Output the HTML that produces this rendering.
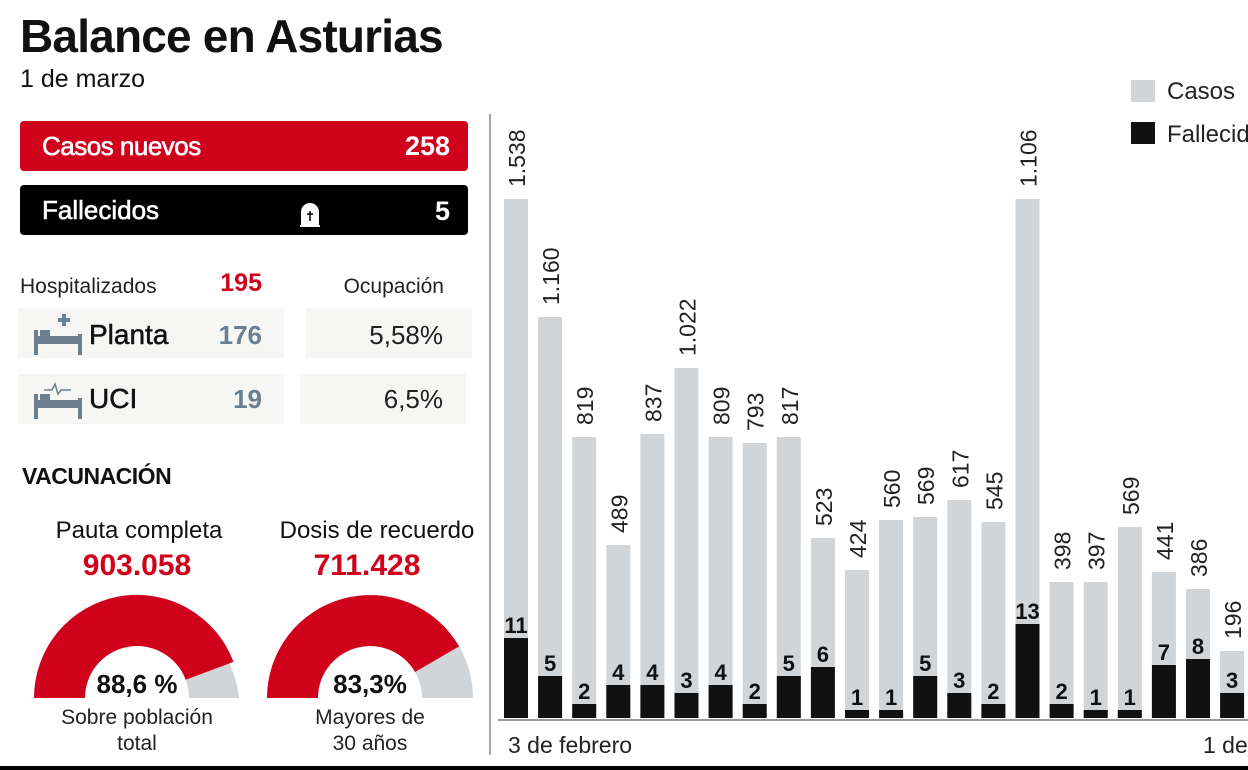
<!DOCTYPE html>
<html><head><meta charset="utf-8"><style>
body{margin:0;width:1248px;height:770px;overflow:hidden;background:#fff;font-family:"Liberation Sans",sans-serif;}
svg{position:absolute;left:0;top:0}
</style></head><body>
<svg width="1248" height="770" viewBox="0 0 1248 770" font-family="Liberation Sans, sans-serif">
<text x="20" y="52" font-size="46" font-weight="bold" fill="#111" letter-spacing="-0.8">Balance en Asturias</text>
<text x="20" y="87" font-size="25" fill="#111">1 de marzo</text>
<rect x="20" y="121" width="448" height="50" rx="4" fill="#d0021b"/>
<text x="42" y="155" font-size="26" fill="#fff" stroke="#fff" stroke-width="0.6" letter-spacing="-0.5">Casos nuevos</text>
<text x="450" y="155" font-size="27" font-weight="bold" fill="#fff" text-anchor="end">258</text>
<rect x="20" y="185" width="448" height="50" rx="4" fill="#000"/>
<text x="42" y="219" font-size="26" fill="#fff" stroke="#fff" stroke-width="0.6">Fallecidos</text>
<path d="M302 226 v-14 a8 8 0 0 1 16 0 v14 z M300 226 h20" fill="#fff" stroke="#fff" stroke-width="2"/>
<path d="M310 211 v10 M307 214 h6" stroke="#000" stroke-width="1.5"/>
<text x="450" y="220" font-size="27" font-weight="bold" fill="#fff" text-anchor="end">5</text>
<text x="20" y="293" font-size="21" fill="#222">Hospitalizados</text>
<text x="262" y="291" font-size="25" font-weight="bold" fill="#d0021b" text-anchor="end">195</text>
<text x="444" y="293" font-size="21" fill="#222" text-anchor="end">Ocupación</text>
<rect x="18" y="308" width="266" height="50" fill="#f6f6f4"/>
<rect x="306" y="308" width="166" height="50" fill="#f6f6f4"/>
<rect x="18" y="374" width="266" height="50" fill="#f6f6f4"/>
<rect x="300" y="374" width="166" height="50" fill="#f6f6f4"/>
<g fill="#6a7f8f">
<rect x="34" y="336" width="48" height="8"/><rect x="34" y="330" width="4" height="25"/><rect x="78" y="334" width="4" height="21"/><rect x="40" y="330" width="10" height="6"/>
<rect x="58" y="318" width="12" height="4"/><rect x="62" y="314" width="4" height="12"/>
<rect x="34" y="400" width="48" height="8"/><rect x="34" y="394" width="4" height="25"/><rect x="78" y="398" width="4" height="21"/><rect x="40" y="394" width="10" height="6"/>
</g>
<path d="M44 390 h8 l3 -6 l3 10 l3 -4 h10" fill="none" stroke="#6a7f8f" stroke-width="1.5"/>
<text x="89" y="344" font-size="28" fill="#111" stroke="#111" stroke-width="0.5">Planta</text>
<text x="262" y="344" font-size="26" font-weight="bold" fill="#6a7f8f" text-anchor="end">176</text>
<text x="443" y="344" font-size="26" fill="#222" text-anchor="end">5,58%</text>
<text x="89" y="408" font-size="28" fill="#111" stroke="#111" stroke-width="0.5">UCI</text>
<text x="262" y="408" font-size="26" font-weight="bold" fill="#6a7f8f" text-anchor="end">19</text>
<text x="443" y="408" font-size="26" fill="#222" text-anchor="end">6,5%</text>
<text x="22" y="484" font-size="23" font-weight="bold" fill="#111" letter-spacing="-0.5">VACUNACIÓN</text>
<text x="139" y="538" font-size="24" fill="#111" text-anchor="middle">Pauta completa</text>
<text x="137" y="575" font-size="30" font-weight="bold" fill="#d0021b" text-anchor="middle">903.058</text>
<text x="377" y="538" font-size="24" fill="#111" text-anchor="middle">Dosis de recuerdo</text>
<text x="367" y="575" font-size="30" font-weight="bold" fill="#d0021b" text-anchor="middle">711.428</text>
<path d="M34 698 A103 103 0 0 1 239 698 L189 698 A52 52 0 0 0 85 698 Z" fill="#d1d5d8"/>
<path d="M34 698 A103 103 0 0 1 233.5 661.9 L185.7 679.8 A52 52 0 0 0 85 698 Z" fill="#d0021b"/>
<path d="M267 698 A103 103 0 0 1 473 698 L422 698 A52 52 0 0 0 318 698 Z" fill="#d1d5d8"/>
<path d="M267 698 A103 103 0 0 1 459.1 646.4 L415 672 A52 52 0 0 0 318 698 Z" fill="#d0021b"/>
<text x="137" y="693" font-size="26" font-weight="bold" fill="#111" text-anchor="middle">88,6 %</text>
<text x="370" y="693" font-size="26" font-weight="bold" fill="#111" text-anchor="middle">83,3%</text>
<text x="137" y="724" font-size="21" fill="#222" text-anchor="middle">Sobre población</text>
<text x="137" y="750" font-size="21" fill="#222" text-anchor="middle">total</text>
<text x="370" y="724" font-size="21" fill="#222" text-anchor="middle">Mayores de</text>
<text x="370" y="750" font-size="21" fill="#222" text-anchor="middle">30 años</text>
<line x1="490" y1="114" x2="490" y2="755" stroke="#888" stroke-width="1.5"/>
<line x1="498" y1="720" x2="1248" y2="720" stroke="#999" stroke-width="2"/>
<rect x="0" y="766" width="1248" height="4" fill="#000"/>
<text x="508" y="753" font-size="23" fill="#222">3 de febrero</text>
<text x="1203" y="753" font-size="23" fill="#222">1 de marzo</text>
<rect x="1131" y="80" width="24" height="22" fill="#d1d5d8"/>
<text x="1167" y="99" font-size="24" fill="#222">Casos</text>
<rect x="1131" y="122" width="24" height="22" fill="#111"/>
<text x="1167" y="142" font-size="24" fill="#222">Fallecidos</text>
<g id="bars"></g>
</svg>
<script>
var casos=[["1.538",199],["1.160",317],["819",437],["489",545],["837",434],["1.022",368],["809",437],["793",443],["817",437],["523",538],["424",570],["560",520],["569",517],["617",500],["545",522],["1.106",199],["398",582],["397",582],["569",527],["441",572],["386",589],["196",651]];
var f=[[11,638],[5,676],[2,704],[4,685],[4,685],[3,693],[4,685],[2,704],[5,676],[6,667],[1,710],[1,710],[5,676],[3,693],[2,704],[13,624],[2,704],[1,710],[1,710],[7,665],[8,659],[3,693]];
var g=document.getElementById('bars'),h='';
for(var i=0;i<22;i++){var x=504+i*34.1;
h+='<rect x="'+x+'" y="'+casos[i][1]+'" width="24" height="'+(718-casos[i][1])+'" fill="#d1d5d8"/>';
h+='<rect x="'+x+'" y="'+f[i][1]+'" width="24" height="'+(718-f[i][1])+'" fill="#111"/>';
var tx=x+21,ty=casos[i][1]-12;
h+='<text transform="translate('+tx+','+ty+') rotate(-90)" font-size="23" fill="#222">'+casos[i][0]+'</text>';
h+='<text x="'+(x+12)+'" y="'+(f[i][1]-5)+'" font-size="22" font-weight="bold" fill="#111" text-anchor="middle">'+f[i][0]+'</text>';}
g.innerHTML=h;
</script>
</body></html>
